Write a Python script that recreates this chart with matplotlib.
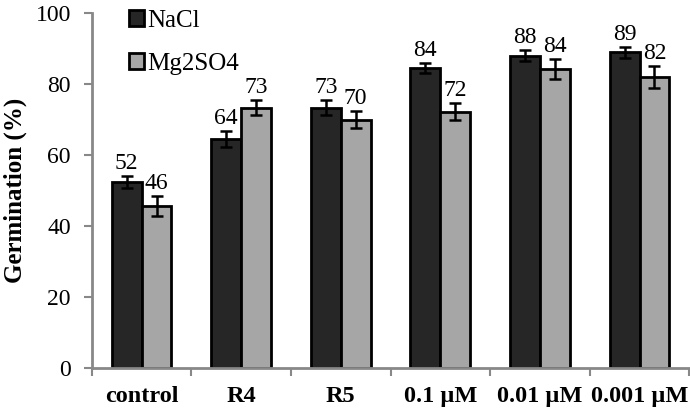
import numpy as np
import matplotlib.pyplot as plt

plt.rcParams['font.family'] = ['Liberation Serif', 'DejaVu Serif']

categories = ['control', 'R4', 'R5', '0.1 µM', '0.01 µM', '0.001 µM']
nacl = [52.3, 64.5, 73.3, 84.5, 88.0, 89.0]
nacl_err = [1.7, 2.2, 2.1, 1.5, 1.6, 1.5]
mg = [45.7, 73.3, 70.0, 72.2, 84.2, 82.1]
mg_err = [2.8, 2.1, 2.5, 2.4, 2.8, 3.1]
nacl_lbl = ['52', '64', '73', '84', '88', '89']
mg_lbl = ['46', '73', '70', '72', '84', '82']

fig = plt.figure(figsize=(6.9, 4.12), dpi=100)
ax = fig.add_axes([0.133, 0.107, 0.866, 0.861])

x = np.arange(len(categories))
w = 0.3
err_kw = dict(ecolor='black', elinewidth=1.8, capsize=4, capthick=1.8)
ax.bar(x - w / 2, nacl, w, yerr=nacl_err, color='#262626', edgecolor='black',
       linewidth=2, label='NaCl', error_kw=err_kw)
ax.bar(x + w / 2, mg, w, yerr=mg_err, color='#a6a6a6', edgecolor='black',
       linewidth=2, label='Mg2SO4', error_kw=err_kw)

for xi, v, e, t in zip(x - w / 2, nacl, nacl_err, nacl_lbl):
    ax.text(xi, v + e + 0.6, t, ha='center', va='bottom', fontsize=17)
for xi, v, e, t in zip(x + w / 2, mg, mg_err, mg_lbl):
    ax.text(xi, v + e + 0.6, t, ha='center', va='bottom', fontsize=17)

ax.set_xlim(-0.5, len(categories) - 0.5)
ax.set_ylim(0, 100)
ax.set_yticks(range(0, 101, 20))
ax.set_xticks(np.arange(-0.5, len(categories), 1.0), minor=False)
ax.set_xticklabels([])
ax.set_xticks(x, minor=True)
ax.set_xticklabels(categories, minor=True, fontweight='bold', fontsize=17.5)
ax.tick_params(axis='x', which='minor', length=0, pad=13)
ax.tick_params(axis='x', which='major', length=6, width=1.5, color='#888888', direction='out')
ax.tick_params(axis='y', length=6, width=1.5, color='#888888', labelsize=17, pad=9,
               direction='out')
ax.set_ylabel('Germination (%)', fontsize=18, fontweight='bold', labelpad=6)

for s in ['top', 'right']:
    ax.spines[s].set_visible(False)
for s in ['left', 'bottom']:
    ax.spines[s].set_color('#888888')
    ax.spines[s].set_linewidth(2)

ax.legend(loc='upper left', bbox_to_anchor=(0.062, 1.01), frameon=False, fontsize=18,
          handlelength=0.6, handleheight=0.6, handletextpad=0.15, labelspacing=0.85,
          borderpad=0, borderaxespad=0)

fig.savefig('out.png', dpi=100)
